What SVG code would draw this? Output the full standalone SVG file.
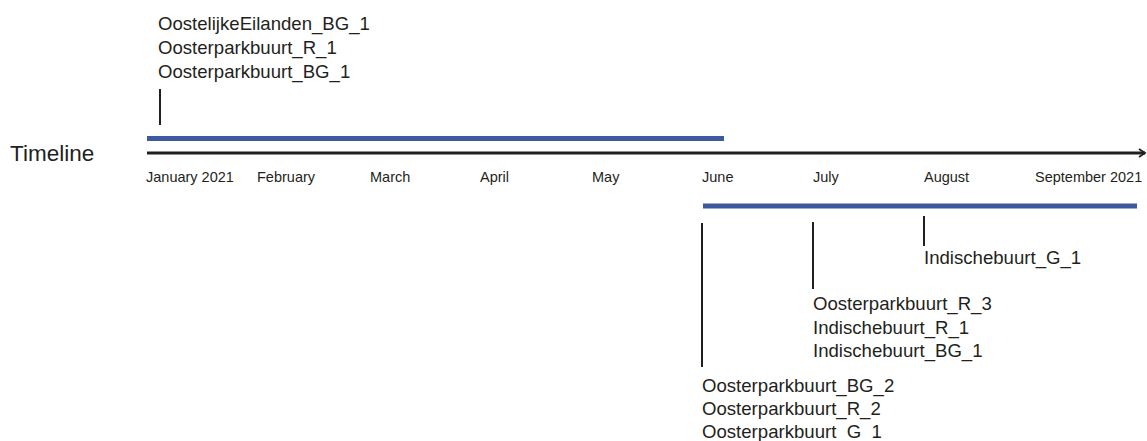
<svg xmlns="http://www.w3.org/2000/svg" width="1147" height="441" viewBox="0 0 1147 441">
<defs>
<style>
text{font-family:"Liberation Sans",Arial,sans-serif;fill:#231f20}
.lbl{font-size:18.6px}
.mon{font-size:14.5px}
.ttl{font-size:22.5px}
.bar{stroke:#3d5a9e;stroke-width:5;fill:none}
.tick{stroke:#231f20;stroke-width:2;fill:none}
.axis{stroke:#231f20;stroke-width:3;fill:none}
</style>
<marker id="arr" markerWidth="10" markerHeight="10" refX="8" refY="5" orient="auto" markerUnits="userSpaceOnUse">
<path d="M2,1 L8,5 L2,9" fill="none" stroke="#231f20" stroke-width="1.8"/>
</marker>
</defs>
<rect width="1147" height="441" fill="#ffffff"/>
<g id="axis">
<text class="ttl" x="10" y="161">Timeline</text>
<line class="axis" x1="147" y1="153" x2="1145" y2="153" marker-end="url(#arr)"/>
<g id="months" class="mon">
<text class="mon" x="146" y="182">January 2021</text>
<text class="mon" x="257" y="182">February</text>
<text class="mon" x="370" y="182">March</text>
<text class="mon" x="480" y="182">April</text>
<text class="mon" x="592" y="182">May</text>
<text class="mon" x="702" y="182">June</text>
<text class="mon" x="813" y="182">July</text>
<text class="mon" x="924" y="182">August</text>
<text class="mon" x="1035" y="182">September 2021</text>
</g>
</g>
<g id="periods">
<line id="period1" class="bar" x1="147" y1="138.5" x2="724" y2="138.5"/>
<line id="period2" class="bar" x1="703" y1="206" x2="1137" y2="206"/>
</g>
<g id="connectors">
<line class="tick" x1="160" y1="89" x2="160" y2="125"/>
<line class="tick" x1="702" y1="223" x2="702" y2="367"/>
<line class="tick" x1="813" y1="222" x2="813" y2="289"/>
<line class="tick" x1="924" y1="216" x2="924" y2="246"/>
</g>
<g id="node-jan">
<text class="lbl" x="158" y="30">OostelijkeEilanden_BG_1</text>
<text class="lbl" x="158" y="54">Oosterparkbuurt_R_1</text>
<text class="lbl" x="158" y="78">Oosterparkbuurt_BG_1</text>
</g>
<g id="node-aug">
<text class="lbl" x="924" y="264">Indischebuurt_G_1</text>
</g>
<g id="node-jul">
<text class="lbl" x="813" y="310">Oosterparkbuurt_R_3</text>
<text class="lbl" x="813" y="334">Indischebuurt_R_1</text>
<text class="lbl" x="813" y="357">Indischebuurt_BG_1</text>
</g>
<g id="node-jun">
<text class="lbl" x="702" y="392">Oosterparkbuurt_BG_2</text>
<text class="lbl" x="702" y="415">Oosterparkbuurt_R_2</text>
<text class="lbl" x="702" y="438">Oosterparkbuurt_G_1</text>
</g>
</svg>
